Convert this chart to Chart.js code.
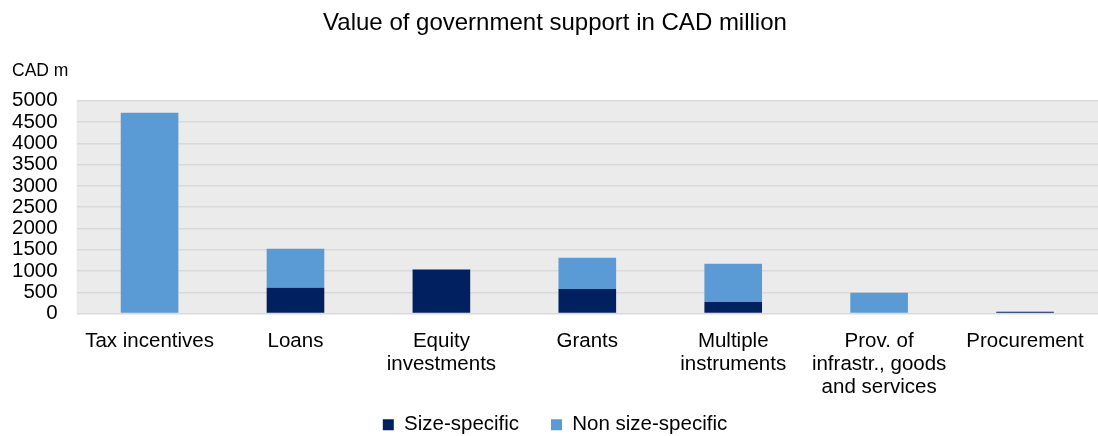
<!DOCTYPE html>
<html lang="en">
<head>
    <meta charset="UTF-8">
    <title>Government support</title>
    <style>
        html, body { margin: 0; padding: 0; background: #fff; }
        #wrap { width: 1098px; height: 436px; }
    </style>
</head>
<body>
<script src="https://cdn.jsdelivr.net/npm/chart.js"></script>
<div id="wrap">
  <canvas id="myChart"></canvas>
</div>
    <script>
        var categories = [
            'Tax incentives',
            'Loans',
            ['Equity', 'investments'],
            'Grants',
            ['Multiple', 'instruments'],
            ['Prov. of', 'infrastr., goods', 'and services'],
            'Procurement'
        ]
        var sizeSpecific = [0, 610, 1035, 580, 275, 0, 45]
        var nonSizeSpecific = [4720, 915, 0, 735, 895, 490, 0]
        var yMax = 5000
        var yStep = 500

        var font = "'Liberation Sans', Arial, sans-serif"

        // grey fill behind the plot area
        const plotBg = {
          id: 'plotBg',
          beforeDraw(chart) {
            const a = chart.chartArea
            const ctx = chart.ctx
            ctx.save()
            ctx.fillStyle = '#ebebeb'
            ctx.fillRect(a.left, a.top, a.right - a.left, a.bottom - a.top)
            ctx.restore()
          }
        }

        const data = {
          labels: categories,
          datasets: [{
            label: 'Size-specific',
            backgroundColor: '#002060',
            data: sizeSpecific,
          }, {
            label: 'Non size-specific',
            backgroundColor: '#5b9bd5',
            data: nonSizeSpecific,
          }]
        };

        const config = {
          type: 'bar',
          data,
          plugins: [plotBg],
          options: {
            responsive: true,
            maintainAspectRatio: false,
            animation: false,
            datasets: {
              bar: { categoryPercentage: 1, barPercentage: 0.395 }
            },
            layout: { padding: { left: 12, right: 0, top: 0, bottom: -9 } },
            plugins: {
              title: {
                display: true,
                text: 'Value of government support in CAD million',
                color: '#000',
                font: { family: font, size: 24, weight: 'normal' },
                padding: { top: 9, bottom: 23 }
              },
              subtitle: {
                display: true,
                text: 'CAD m',
                align: 'start',
                color: '#000',
                font: { family: font, size: 17.5 },
                padding: { top: 0, bottom: 19 }
              },
              legend: {
                position: 'bottom',
                labels: {
                  color: '#000',
                  font: { family: font, size: 20.5 },
                  boxWidth: 11,
                  boxHeight: 11,
                  padding: 0,
                  // extra room after the first entry
                  generateLabels(chart) {
                    const items = Chart.defaults.plugins.legend.labels.generateLabels(chart)
                    items.forEach((it, i) => {
                      if (i < items.length - 1) it.text = it.text + '\u2003  '
                    })
                    return items
                  }
                }
              },
              tooltip: { enabled: false }
            },
            scales: {
              x: {
                stacked: true,
                grid: { display: false },
                border: { display: false },
                afterFit(scale) {
                  // keep a gap between the labels and the legend
                  scale.height += 8
                },
                ticks: {
                  color: '#000',
                  font: { family: font, size: 20.5, lineHeight: 1.12 },
                  maxRotation: 0,
                  autoSkip: false,
                  padding: 8
                }
              },
              y: {
                stacked: true,
                min: 0,
                max: yMax,
                afterFit(scale) {
                  // the tick padding is reserved twice; drop the outer one
                  scale.width -= 19
                },
                grid: { color: '#d9d9d9', lineWidth: 1.5, drawTicks: false },
                border: { display: false },
                ticks: {
                  stepSize: yStep,
                  autoSkip: false,
                  color: '#000',
                  font: { family: font, size: 20.5, lineHeight: 1 },
                  padding: 19,
                  callback: v => String(v)
                }
              }
            }
          }
        };

        var myChart = new Chart(
            document.getElementById('myChart'),
            config
        );
    </script>
</body>
</html>
